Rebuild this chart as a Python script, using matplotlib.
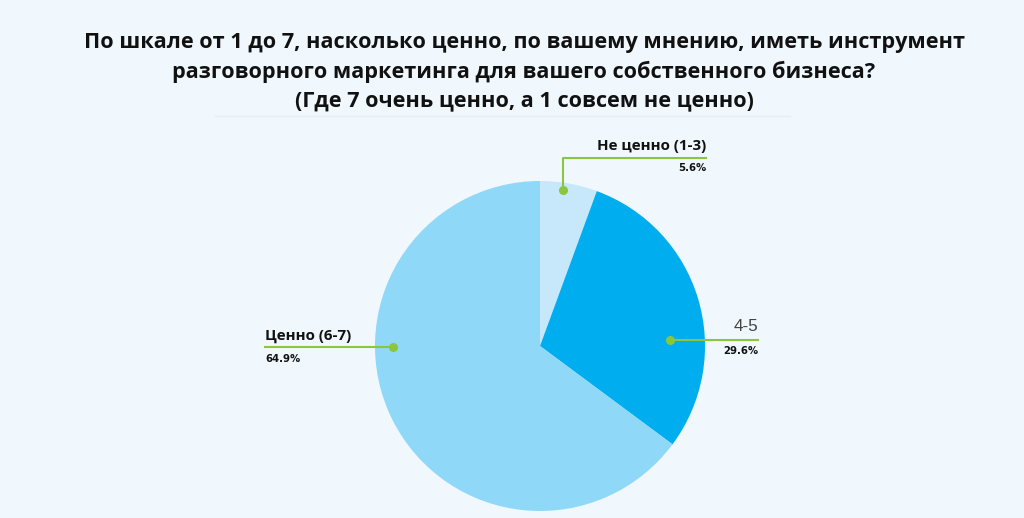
import matplotlib
matplotlib.use("Agg")
import matplotlib.pyplot as plt

categories = ["Не ценно (1-3)", "4-5", "Ценно (6-7)"]
values = [5.6, 29.6, 64.9]
pct_labels = ["5.6%", "29.6%", "64.9%"]
colors = ["#c6e8fa", "#00adef", "#8fd8f7"]

title = ("По шкале от 1 до 7, насколько ценно, по вашему мнению, иметь инструмент\n"
         "разговорного маркетинга для вашего собственного бизнеса?\n"
         "(Где 7 очень ценно, а 1 совсем не ценно)")

W, H = 1024, 518
bg = "#f0f8fd"
green = "#8cc63f"

fig = plt.figure(figsize=(W / 100, H / 100), dpi=100, facecolor=bg)
ax = fig.add_axes([0, 0, 1, 1])
ax.set_facecolor(bg)

def py(y):
    return H - y

cx, cy, R = 540, 346, 165
ax.pie(values, colors=colors, startangle=90, counterclock=False,
       center=(cx, py(cy)), radius=R, wedgeprops=dict(linewidth=0))

ax.set_xlim(0, W)
ax.set_ylim(0, H)
ax.set_aspect("equal")
ax.axis("off")

fig.text(524 / W, 1 - 72 / H, title, ha="center", va="center", fontsize=15.6,
         fontweight="bold", family="Open Sans", color="#111111", linespacing=1.45)

# faint separator under title
ax.plot([215, 790], [py(116), py(116)], color="#e4eef4", lw=1)

pct_font = dict(fontsize=7.3, fontweight="bold", family="DejaVu Sans", color="#111111")
lab_font = dict(fontsize=10.9, fontweight="bold", family="Open Sans", color="#111111")

# leader 1: Не ценно
ax.plot([563, 563, 706], [py(190), py(158), py(158)], color=green, lw=1.5)
ax.plot([563], [py(190)], "o", color=green, ms=5.5)
ax.text(706, py(150), categories[0], ha="right", va="baseline", **lab_font)
ax.text(706, py(171), pct_labels[0], ha="right", va="baseline", **pct_font)

# leader 2: 4-5
ax.plot([670, 758], [py(340), py(340)], color=green, lw=1.5)
ax.plot([670], [py(340)], "o", color=green, ms=5.5)
ax.text(758, py(331), categories[1], ha="right", va="baseline", fontsize=12.3,
        family="Liberation Sans", color="#444444")
ax.text(758, py(354), pct_labels[1], ha="right", va="baseline", **pct_font)

# leader 3: Ценно
ax.plot([265, 393], [py(347), py(347)], color=green, lw=1.5)
ax.plot([393], [py(347)], "o", color=green, ms=5.5)
ax.text(265, py(340), categories[2], ha="left", va="baseline", **lab_font)
ax.text(265, py(362), pct_labels[2], ha="left", va="baseline", **pct_font)

fig.savefig("out.png", dpi=100, facecolor=bg)
